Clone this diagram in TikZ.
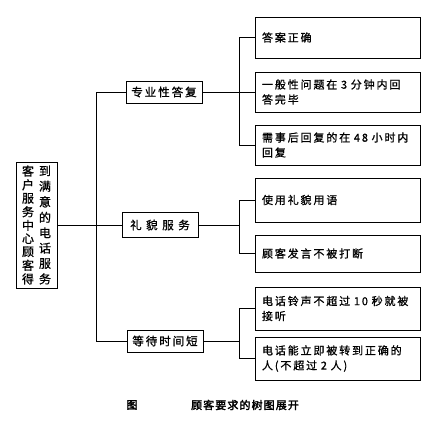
\documentclass[tikz,border=0pt]{standalone}
\usepackage{fontspec}
\setmainfont{Noto Sans CJK SC}[LetterSpace=17,FakeBold=1]
\newfontfamily\capfont{Noto Sans CJK SC}[LetterSpace=10,FakeBold=2.5]
\usetikzlibrary{calc}

% one column of upright characters, spread over a fixed height
\newcommand{\vtext}[1]{\vbox to 118pt{\offinterlineskip
  \foreach \c [count=\i] in {#1}{\ifnum\i>1 \vfill\fi\hbox{\c}}}}

\begin{document}
\begin{tikzpicture}[x=1pt,y=-1pt,
    box/.style={draw,line width=0.9pt,inner sep=0pt},
    group/.style={box,minimum width=76pt,minimum height=22pt,font=\fontsize{11.5}{13}\selectfont},
    leaf/.style={box,minimum width=165pt,text width=157pt,inner xsep=4pt,align=left,font=\fontsize{11}{15}\selectfont},
    edge/.style={line width=0.7pt}]
  \useasboundingbox (0,0) rectangle (434,425);
  \coordinate (trunk) at (96,0);
  \coordinate (sub) at (239,0);
  % root
  \node[box,minimum width=41pt,minimum height=126pt,font=\fontsize{12}{13}\selectfont] (root) at (36.5,225)
    {\vtext{客,户,服,务,中,心,顾,客,得}\hspace{5pt}\vtext{到,满,意,的,电,话,服,务}};
  % second level
  \node[group] (g1) at (164,92) {专业性答复};
  \node[group,minimum height=25pt] (g2) at (160,225) {礼\ 貌\ 服\ 务};
  \node[group] (g3) at (165,341) {等待时间短};
  % leaves
  \node[leaf,minimum height=41pt] (l1) at (337.5,37.5) {\hspace{3pt}答案正确};
  \node[leaf,minimum height=40pt] (l2) at (337.5,92) {\hspace{3pt}一般性问题在 3 分钟内回\\\hspace{3pt}答完毕};
  \node[leaf,minimum height=40pt] (l3) at (337.5,145) {\hspace{3pt}需事后回复的在 48 小时内\\\hspace{3pt}回复};
  \node[leaf,minimum height=44pt] (l4) at (337.5,200) {\hspace{3pt}使用礼貌用语};
  \node[leaf,minimum height=37pt] (l5) at (337.5,253.5) {\hspace{3pt}顾客发言不被打断};
  \node[leaf,minimum height=43pt] (l6) at (337.5,308.5) {\hspace{3pt}电话铃声不超过 10 秒就被\\\hspace{3pt}接听};
  \node[leaf,minimum height=43pt] (l7) at (337.5,358.5) {\hspace{3pt}电话能立即被转到正确的\\\hspace{3pt}人(不超过 2 人)};
  % connectors
  \draw[edge] (root.east) -- (g2.west);
  \draw[edge] (g1.west) -- (g1.west -| trunk) -- (g3.west -| trunk) -- (g3.west);
  \draw[edge] (g1.east) -- (l2.west);
  \draw[edge] (g2.east) -- (g2.east -| sub);
  \draw[edge] (g3.east) -- (g3.east -| sub);
  \foreach \a/\b in {l1/l3,l4/l5,l6/l7}
    \draw[edge] (\a.west) -- (\a.west -| sub) -- (\b.west -| sub) -- (\b.west);
  % caption
  \node[font=\capfont\fontsize{11}{13}\selectfont] (figlabel) at (132,405) {图};
  \node[font=\capfont\fontsize{11}{13}\selectfont] (caption) at (245,405) {顾客要求的树图展开};
\end{tikzpicture}
\end{document}
